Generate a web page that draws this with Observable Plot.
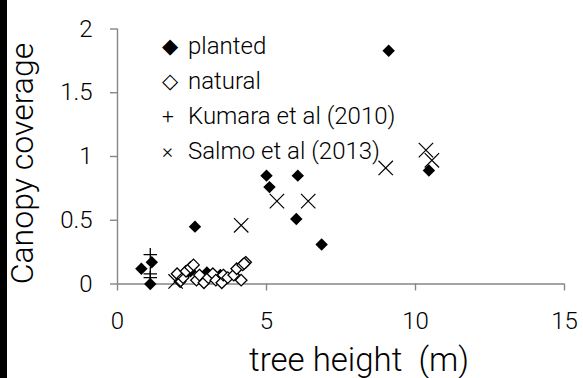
<!DOCTYPE html>
<html>
<head>
<meta charset="utf-8">
<script src="https://cdn.jsdelivr.net/npm/d3@7"></script>
<script src="https://cdn.jsdelivr.net/npm/@observablehq/plot@0.6"></script>
<style>
  html, body { margin: 0; padding: 0; background: #fff; }
  #wrap { position: relative; width: 583px; height: 378px; overflow: hidden; font-family: Roboto, "Noto Sans", sans-serif; font-weight: 300; }
  #bar { position: absolute; left: 0; top: 0; width: 7px; height: 378px; background: #000; }
  #legend { position: absolute; left: 161px; top: 29px; font-size: 24px; color: #000; line-height: 35px; }
  #legend .row { display: flex; align-items: center; height: 35px; white-space: nowrap; }
  #legend .sym { width: 26px; display: inline-block; font-size: 21px; text-align: left; padding-left: 1px; }
</style>
</head>
<body>
<div id="wrap"><div id="chart"></div><div id="legend"></div><div id="bar"></div></div>
<script>
// Planted (filled diamonds)
const plantedX = [0.8, 1.15, 1.1, 2.6, 2.3, 2.45, 3.0, 3.2, 3.45, 3.6, 5.0, 5.1, 6.05, 6.0, 6.85, 9.1, 10.45];
const plantedY = [0.12, 0.17, 0.0, 0.45, 0.08, 0.10, 0.09, 0.07, 0.07, 0.06, 0.85, 0.76, 0.85, 0.51, 0.31, 1.83, 0.89];
// Natural (open diamonds)
const naturalX = [2.0, 2.1, 2.2, 2.3, 2.45, 2.55, 2.65, 2.75, 2.9, 3.05, 3.2, 3.3, 3.5, 3.55, 3.7, 3.9, 4.0, 4.15, 4.2, 4.3, 4.25];
const naturalY = [0.08, 0.02, 0.05, 0.10, 0.13, 0.15, 0.03, 0.07, 0.01, 0.05, 0.08, 0.03, 0.01, 0.07, 0.05, 0.07, 0.12, 0.03, 0.15, 0.17, 0.16];
// Kumara et al (2010)
const kumaraX = [1.1, 1.1, 1.1];
const kumaraY = [0.23, 0.08, 0.05];
// Salmo et al (2013)
const salmoX = [1.95, 4.15, 5.35, 6.4, 9.0, 10.35, 10.55];
const salmoY = [0.02, 0.46, 0.65, 0.65, 0.91, 1.05, 0.97];

const xTicks = [0, 5, 10, 15];
const yTicks = [0, 0.5, 1, 1.5, 2];
const yTickLabels = ["0", "0.5", "1", "1.5", "2"];
const legendLabels = ["planted", "natural", "Kumara et al (2010)", "Salmo et al (2013)"];
const legendSymbols = ["\u25C6", "\u25C7", "+", "\u00D7"];
const xTitle = "tree height  (m)";
const yTitle = "Canopy coverage";

const toRows = (xs, ys) => xs.map((x, i) => ({x, y: ys[i]}));
const planted = toRows(plantedX, plantedY);
const natural = toRows(naturalX, naturalY);
const kumara = toRows(kumaraX, kumaraY);
const salmo = toRows(salmoX, salmoY);

const axisColor = "#868686";
const chart = Plot.plot({
  width: 583,
  height: 378,
  marginLeft: 117,
  marginRight: 19,
  marginTop: 28.5,
  marginBottom: 94.5,
  style: { fontFamily: "Roboto, 'Noto Sans', sans-serif", fontWeight: 300, background: "#fff", color: "#000", overflow: "visible" },
  x: { domain: [0, 15] },
  y: { domain: [0, 2] },
  marks: [
    Plot.ruleX([0], { stroke: axisColor, strokeWidth: 1.4 }),
    Plot.ruleY([0], { stroke: axisColor, strokeWidth: 1.4 }),
    Plot.axisX({ ticks: xTicks, tickSize: 7, tickPadding: 21, stroke: axisColor, strokeWidth: 1.4, fontSize: 24, label: null, fill: "#000" }),
    Plot.axisY({ ticks: yTicks, tickFormat: (d, i) => yTickLabels[i], tickSize: 7, tickPadding: 18, stroke: axisColor, strokeWidth: 1.4, fontSize: 24, label: null, fill: "#000" }),
    Plot.dot(planted, { x: "x", y: "y", symbol: "diamond2", r: 5.6, fill: "#000", stroke: "none" }),
    Plot.dot(natural, { x: "x", y: "y", symbol: "diamond2", r: 5.2, fill: "#fff", stroke: "#000", strokeWidth: 1.3 }),
    Plot.dot(kumara, { x: "x", y: "y", symbol: "plus", r: 4.4, stroke: "#000", strokeWidth: 1.3 }),
    Plot.dot(salmo, { x: "x", y: "y", symbol: "times", r: 6.6, stroke: "#000", strokeWidth: 1.2 }),
    Plot.text([xTitle], { frameAnchor: "bottom", textAnchor: "middle", dx: 18, dy: 76, fontSize: 33, fill: "#000", lineAnchor: "middle" }),
    Plot.text([yTitle], { frameAnchor: "left", textAnchor: "middle", dx: -95, dy: 7, rotate: -90, fontSize: 32, fill: "#000", lineAnchor: "middle" })
  ]
});
document.getElementById("chart").appendChild(chart);

const legend = document.getElementById("legend");
legendLabels.forEach((lab, i) => {
  const row = document.createElement("div");
  row.className = "row";
  const s = document.createElement("span");
  s.className = "sym";
  s.textContent = legendSymbols[i];
  const t = document.createElement("span");
  t.textContent = lab;
  row.appendChild(s);
  row.appendChild(t);
  legend.appendChild(row);
});
</script>
</body>
</html>
